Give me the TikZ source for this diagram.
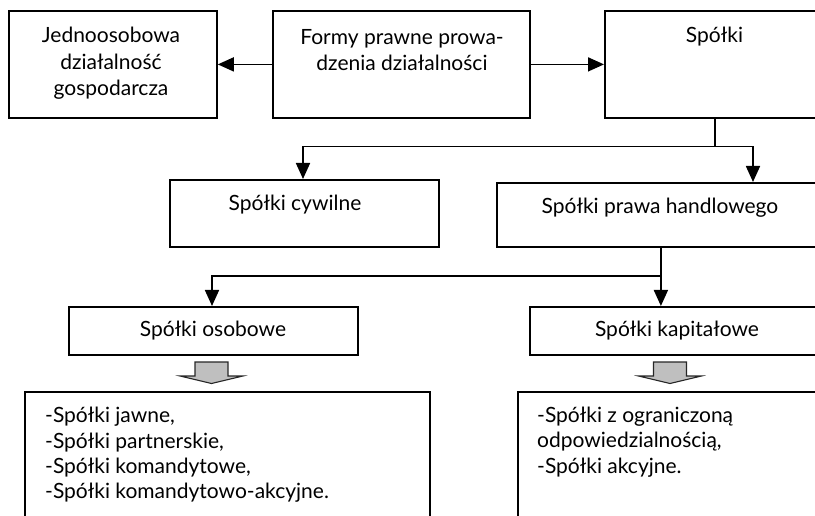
\documentclass[tikz,border=0pt]{standalone}
\usepackage{fontspec}
\setmainfont{Lato}
\usetikzlibrary{arrows.meta}

% gray block arrow pointing down, top centre at #1
\newcommand\grayarrow[1]{%
  \draw[blockarrow, shift={(#1)}] (-16.5,0) -- (16.5,0) -- (16.5,14) -- (31.5,14)
    -- (0,21.5) -- (-31.5,14) -- (-16.5,14) -- cycle;}

\begin{document}
\begin{tikzpicture}[x=1pt,y=-1pt,
  box/.style={draw, line width=1.8pt, inner sep=0pt, anchor=north west},
  lbl/.style={inner sep=0pt, align=center, font=\fontsize{21}{26.7}\selectfont},
  lst/.style={inner sep=0pt, align=left, anchor=west, font=\fontsize{21}{25.3}\selectfont},
  conn/.style={line width=1.7pt},
  arr/.style={conn, -{Triangle[length=16pt,width=14pt]}},
  blockarrow/.style={draw=black!85, line width=1.1pt, fill=black!25, line join=miter}]

\useasboundingbox (0,0) rectangle (815,516);
\clip (0,0) rectangle (815,516);

% top row
\node[box, minimum width=208pt, minimum height=107pt] (jdg) at (8,10) {};
\node[box, minimum width=257pt, minimum height=107pt] (formy) at (272,10) {};
\node[box, minimum width=220pt, minimum height=107pt] (spolki) at (604,10) {};

% second row
\node[box, minimum width=269pt, minimum height=67pt] (cyw) at (169,179) {};
\node[box, minimum width=328pt, minimum height=64pt] (sph) at (496,182) {};

% third row
\node[box, minimum width=289pt, minimum height=48pt] (osob) at (68,306) {};
\node[box, minimum width=295pt, minimum height=48pt] (kap) at (529,306) {};

% lists
\node[box, minimum width=405pt, minimum height=140pt] (listL) at (24,391) {};
\node[box, minimum width=400pt, minimum height=140pt] (listR) at (517,391) {};

% labels
\node[lbl] (tjdg) at (111,63.3) {Jednoosobowa\\działalność\\gospodarcza};
\node[lbl] (tformy) at (402,50) {Formy prawne prowa-\\dzenia działalności};
\node[lbl] (tspolki) at (714.5,37) {Spółki};
\node[lbl] (tcyw) at (295,205) {Spółki cywilne};
\node[lbl] (tsph) at (660,208) {Spółki prawa handlowego};
\node[lbl] (tosob) at (213,331) {Spółki osobowe};
\node[lbl] (tkap) at (677,331) {Spółki kapitałowe};
\node[lst] (tlistL) at (45,455) {-Spółki jawne,\\-Spółki partnerskie,\\-Spółki komandytowe,\\-Spółki komandytowo-akcyjne.};
\node[lst] (tlistR) at (537,442) {-Spółki z ograniczoną\\odpowiedzialnością,\\-Spółki akcyjne.};

% connectors, top row
\draw[arr] (formy.west) -- (jdg.east);
\draw[arr] (formy.east) -- (spolki.west);

% split below "Spółki"
\coordinate (s1) at (303,146.5);
\coordinate (s2) at (753,146.5);
\draw[conn] (spolki.south) -- (spolki.south |- s1);
\draw[arr] (spolki.south |- s1) -- (s1) -- (s1 |- cyw.north);
\draw[arr] (spolki.south |- s1) -- (s2) -- (s2 |- sph.north);

% split below "Spółki prawa handlowego"
\coordinate (t1) at (212,275.7);
\coordinate (t2) at (sph.south |- t1);
\draw[conn] (sph.south) -- (t2);
\draw[arr] (t2) -- (t1) -- (t1 |- osob.north);
\draw[arr] (t2) -- (t2 |- kap.north);

% block arrows towards the lists
\coordinate (g1) at (211.5,362);
\coordinate (g2) at (670,362);
\grayarrow{g1}
\grayarrow{g2}

\end{tikzpicture}
\end{document}
